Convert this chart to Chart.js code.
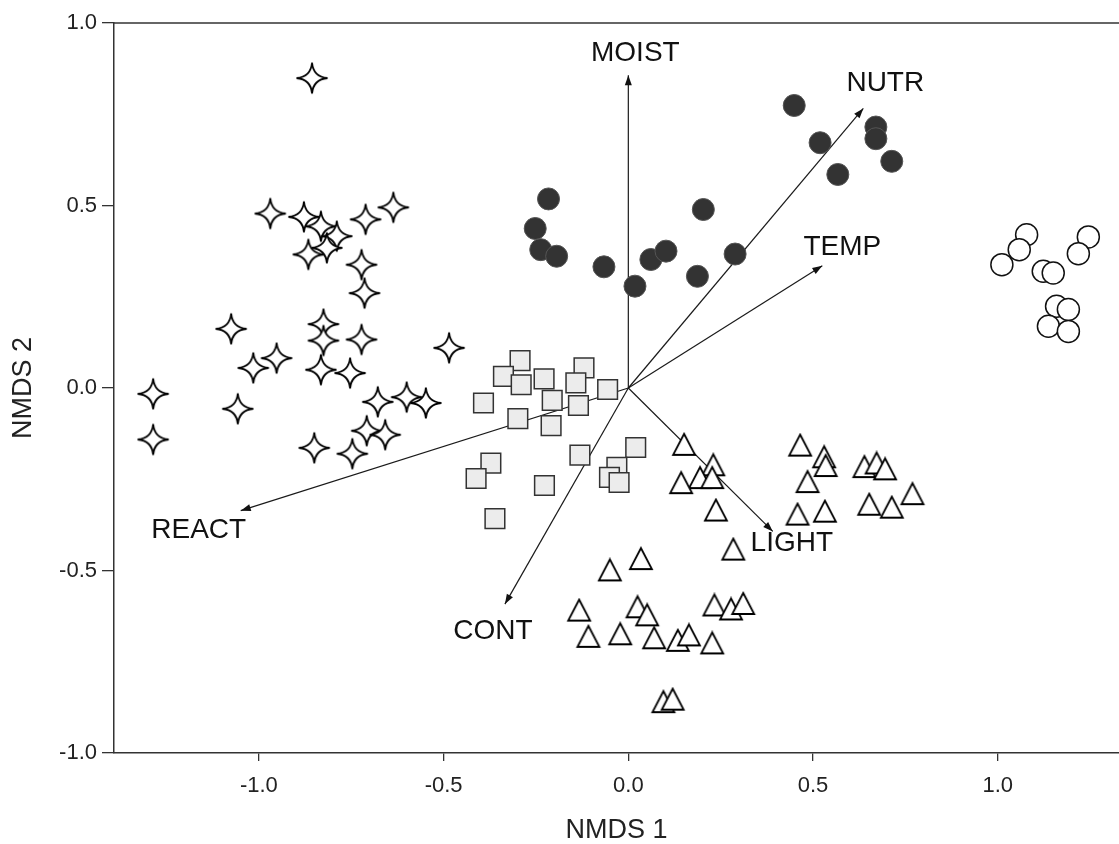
<!DOCTYPE html>
<html>
<head>
<meta charset="utf-8">
<script src="https://cdn.jsdelivr.net/npm/chart.js@4.4.1/dist/chart.umd.min.js"></script>
<style>
  html, body { margin: 0; padding: 0; background: #fff; overflow: hidden; }
  #wrap { width: 1119px; height: 844px; position: relative; }
  canvas { display: block; }
</style>
</head>
<body>
<div id="wrap"><canvas id="nmdsChart"></canvas></div>
<script>
// NMDS site scores, one pair of arrays per group (marker)
const starX = [-0.856, -0.969, -0.878, -0.832, -0.789, -0.866, -0.816, -0.711, -0.636, -0.722, -0.714,
               -1.075, -0.825, -0.825, -0.722, -1.015, -0.952, -0.832, -0.753, -0.485,
               -1.286, -1.057, -1.286, -0.678, -0.600, -0.548, -0.708, -0.658, -0.850, -0.747];
const starY = [0.849, 0.478, 0.469, 0.443, 0.416, 0.366, 0.384, 0.462, 0.495, 0.338, 0.260,
               0.162, 0.175, 0.130, 0.133, 0.055, 0.082, 0.050, 0.041, 0.110,
               -0.016, -0.057, -0.141, -0.038, -0.025, -0.041, -0.117, -0.128, -0.164, -0.180];

const filledX = [-0.216, -0.252, -0.237, -0.194, -0.066, 0.018, 0.061, 0.102, 0.203, 0.187, 0.289,
                 0.449, 0.519, 0.567, 0.670, 0.670, 0.713];
const filledY = [0.518, 0.437, 0.379, 0.361, 0.332, 0.279, 0.352, 0.375, 0.489, 0.306, 0.367,
                 0.774, 0.672, 0.585, 0.715, 0.683, 0.621];

const openX = [1.078, 1.058, 1.011, 1.123, 1.150, 1.245, 1.218, 1.159, 1.191, 1.137, 1.191];
const openY = [0.420, 0.379, 0.338, 0.320, 0.315, 0.414, 0.368, 0.224, 0.215, 0.169, 0.155];

const squareX = [-0.293, -0.338, -0.290, -0.228, -0.120, -0.142, -0.056, -0.392, -0.206, -0.135, -0.299,
                 -0.209, 0.020, -0.131, -0.372, -0.412, -0.227, -0.031, -0.051, -0.025, -0.361];
const squareY = [0.075, 0.032, 0.009, 0.025, 0.055, 0.014, -0.004, -0.041, -0.034, -0.048, -0.084,
                 -0.103, -0.163, -0.184, -0.206, -0.248, -0.267, -0.217, -0.245, -0.259, -0.358];

const triX = [0.151, 0.230, 0.194, 0.227, 0.143, 0.237, 0.284, 0.034, -0.050, -0.133, 0.025, 0.051,
              -0.108, -0.022, 0.070, 0.134, 0.164, 0.227, 0.233, 0.278, 0.311, 0.095, 0.120,
              0.465, 0.530, 0.534, 0.485, 0.639, 0.672, 0.695, 0.769, 0.652, 0.713, 0.458, 0.532];
const triY = [-0.164, -0.220, -0.255, -0.255, -0.269, -0.344, -0.451, -0.477, -0.508, -0.618, -0.609, -0.631,
              -0.690, -0.683, -0.694, -0.701, -0.686, -0.708, -0.604, -0.615, -0.600, -0.869, -0.862,
              -0.166, -0.198, -0.222, -0.266, -0.225, -0.215, -0.231, -0.299, -0.328, -0.336, -0.355, -0.347];

// environmental vectors (Ellenberg indicators)
const vecNames = ['MOIST', 'NUTR', 'TEMP', 'LIGHT', 'CONT', 'REACT'];
const vecX = [0.000, 0.636, 0.525, 0.391, -0.334, -1.049];
const vecY = [0.857, 0.766, 0.335, -0.393, -0.592, -0.336];

const xTicks = [-1.0, -0.5, 0.0, 0.5, 1.0];
const yTicks = [-1.0, -0.5, 0.0, 0.5, 1.0];

// label placement relative to arrow tip, pixels
const labelOffsets = {
    MOIST: [7, -22], NUTR: [22, -25], TEMP: [20, -18],
    LIGHT: [19, 12], CONT: [-12, 27], REACT: [-42, 20]
};

const FONT = "'Liberation Sans', Arial, sans-serif";

function pts(xs, ys) {
    return xs.map((x, i) => ({ x: x, y: ys[i] }));
}

// 4-pointed star marker
function makeStar() {
    const c = document.createElement('canvas');
    c.width = 36; c.height = 36;
    const g = c.getContext('2d');
    const r = 15.5, k = 1.2;
    g.translate(18, 18);
    g.beginPath();
    g.moveTo(0, -r);
    g.quadraticCurveTo(k, -k, r, 0);
    g.quadraticCurveTo(k, k, 0, r);
    g.quadraticCurveTo(-k, k, -r, 0);
    g.quadraticCurveTo(-k, -k, 0, -r);
    g.closePath();
    g.fillStyle = '#fff';
    g.fill();
    g.lineWidth = 1.8;
    g.strokeStyle = '#000';
    g.stroke();
    return c;
}

// open triangle, centroid at the image centre
function makeTriangle() {
    const c = document.createElement('canvas');
    c.width = 28; c.height = 32;
    const g = c.getContext('2d');
    const h = 21, w = 22;
    g.translate(14, 16);
    g.beginPath();
    g.moveTo(0, -h * 2 / 3);
    g.lineTo(w / 2, h / 3);
    g.lineTo(-w / 2, h / 3);
    g.closePath();
    g.fillStyle = '#fff';
    g.fill();
    g.lineWidth = 1.8;
    g.lineJoin = 'miter';
    g.strokeStyle = '#000';
    g.stroke();
    return c;
}

const vectorDatasets = vecNames.map((name, i) => ({
    type: 'line',
    label: name,
    data: [{ x: 0, y: 0 }, { x: vecX[i], y: vecY[i] }],
    borderColor: '#1a1a1a',
    borderWidth: 1.2,
    pointRadius: 0,
    fill: false,
    order: 10,
    isVector: true
}));

const arrowPlugin = {
    id: 'arrows',
    afterDatasetsDraw(chart) {
        const ctx = chart.ctx;
        ctx.save();
        chart.data.datasets.forEach((ds, i) => {
            if (!ds.isVector) return;
            const meta = chart.getDatasetMeta(i);
            const p0 = meta.data[0], p1 = meta.data[1];
            const a = Math.atan2(p1.y - p0.y, p1.x - p0.x);
            const len = 10, hw = 3.5;
            ctx.fillStyle = '#111';
            ctx.beginPath();
            ctx.moveTo(p1.x, p1.y);
            ctx.lineTo(p1.x - len * Math.cos(a) + hw * Math.sin(a), p1.y - len * Math.sin(a) - hw * Math.cos(a));
            ctx.lineTo(p1.x - len * Math.cos(a) - hw * Math.sin(a), p1.y - len * Math.sin(a) + hw * Math.cos(a));
            ctx.closePath();
            ctx.fill();
            const off = labelOffsets[ds.label];
            ctx.font = '28px ' + FONT;
            ctx.textAlign = 'center';
            ctx.textBaseline = 'middle';
            ctx.fillText(ds.label, p1.x + off[0], p1.y + off[1]);
        });
        // top frame line
        const ca = chart.chartArea;
        ctx.strokeStyle = '#333';
        ctx.lineWidth = 1.5;
        ctx.beginPath();
        ctx.moveTo(ca.left, ca.top);
        ctx.lineTo(ca.right, ca.top);
        ctx.stroke();
        ctx.restore();
    }
};

window.addEventListener('load', function() {
    const star = makeStar();
    const tri = makeTriangle();
    const ctx = document.getElementById('nmdsChart').getContext('2d');
    new Chart(ctx, {
        type: 'scatter',
        data: {
            datasets: vectorDatasets.concat([
                {
                    label: 'stars',
                    data: pts(starX, starY),
                    pointStyle: star,
                    pointRadius: 15,
                    order: 0
                },
                {
                    label: 'squares',
                    data: pts(squareX, squareY),
                    pointStyle: 'rect',
                    pointRadius: 13.9,
                    backgroundColor: '#ececec',
                    borderColor: '#333',
                    borderWidth: 1.5,
                    order: 0
                },
                {
                    label: 'filled circles',
                    data: pts(filledX, filledY),
                    pointStyle: 'circle',
                    pointRadius: 11,
                    backgroundColor: '#333333',
                    borderColor: '#555',
                    borderWidth: 1,
                    order: 0
                },
                {
                    label: 'open circles',
                    data: pts(openX, openY),
                    pointStyle: 'circle',
                    pointRadius: 11,
                    backgroundColor: '#fff',
                    borderColor: '#111',
                    borderWidth: 1.5,
                    order: 0
                },
                {
                    label: 'triangles',
                    data: pts(triX, triY),
                    pointStyle: tri,
                    pointRadius: 12.5,
                    order: 0
                }
            ])
        },
        options: {
            responsive: true,
            maintainAspectRatio: false,
            animation: false,
            events: [],
            layout: {
                autoPadding: false,
                padding: { top: 23, right: 0, left: 0, bottom: 0 }
            },
            plugins: {
                legend: { display: false },
                tooltip: { enabled: false }
            },
            scales: {
                x: {
                    type: 'linear',
                    position: 'bottom',
                    min: -1.392,
                    max: 1.328,
                    afterFit: function(scale) {
                        scale.height = 91;
                        scale.paddingLeft = 0;
                        scale.paddingRight = 0;
                    },
                    afterBuildTicks: function(scale) {
                        scale.ticks = xTicks.map(v => ({ value: v }));
                    },
                    grid: {
                        drawOnChartArea: false,
                        drawTicks: true,
                        tickLength: 8,
                        color: '#333',
                        lineWidth: 1.3
                    },
                    border: { display: true, color: '#333', width: 1.5 },
                    ticks: {
                        color: '#222',
                        padding: 12,
                        font: { family: FONT, size: 22 },
                        callback: function(value) {
                            return value.toFixed(1);
                        }
                    },
                    title: {
                        display: true,
                        text: 'NMDS 1',
                        color: '#222',
                        font: { family: FONT, size: 27, lineHeight: 1.0 },
                        padding: { top: 0, bottom: 0 }
                    }
                },
                y: {
                    type: 'linear',
                    min: -1,
                    max: 1,
                    afterFit: function(scale) {
                        scale.width = 114;
                        scale.paddingTop = 0;
                        scale.paddingBottom = 0;
                    },
                    afterBuildTicks: function(scale) {
                        scale.ticks = yTicks.map(v => ({ value: v }));
                    },
                    grid: {
                        drawOnChartArea: false,
                        drawTicks: true,
                        tickLength: 12,
                        color: '#333',
                        lineWidth: 1.3
                    },
                    border: { display: true, color: '#333', width: 1.5 },
                    ticks: {
                        color: '#222',
                        padding: 5,
                        font: { family: FONT, size: 22 },
                        callback: function(value) {
                            return value.toFixed(1);
                        }
                    },
                    title: {
                        display: true,
                        text: 'NMDS 2',
                        color: '#222',
                        font: { family: FONT, size: 27, lineHeight: 1.0 },
                        padding: { top: 10, bottom: 0 }
                    }
                }
            }
        },
        plugins: [arrowPlugin]
    });
});
</script>
</body>
</html>
